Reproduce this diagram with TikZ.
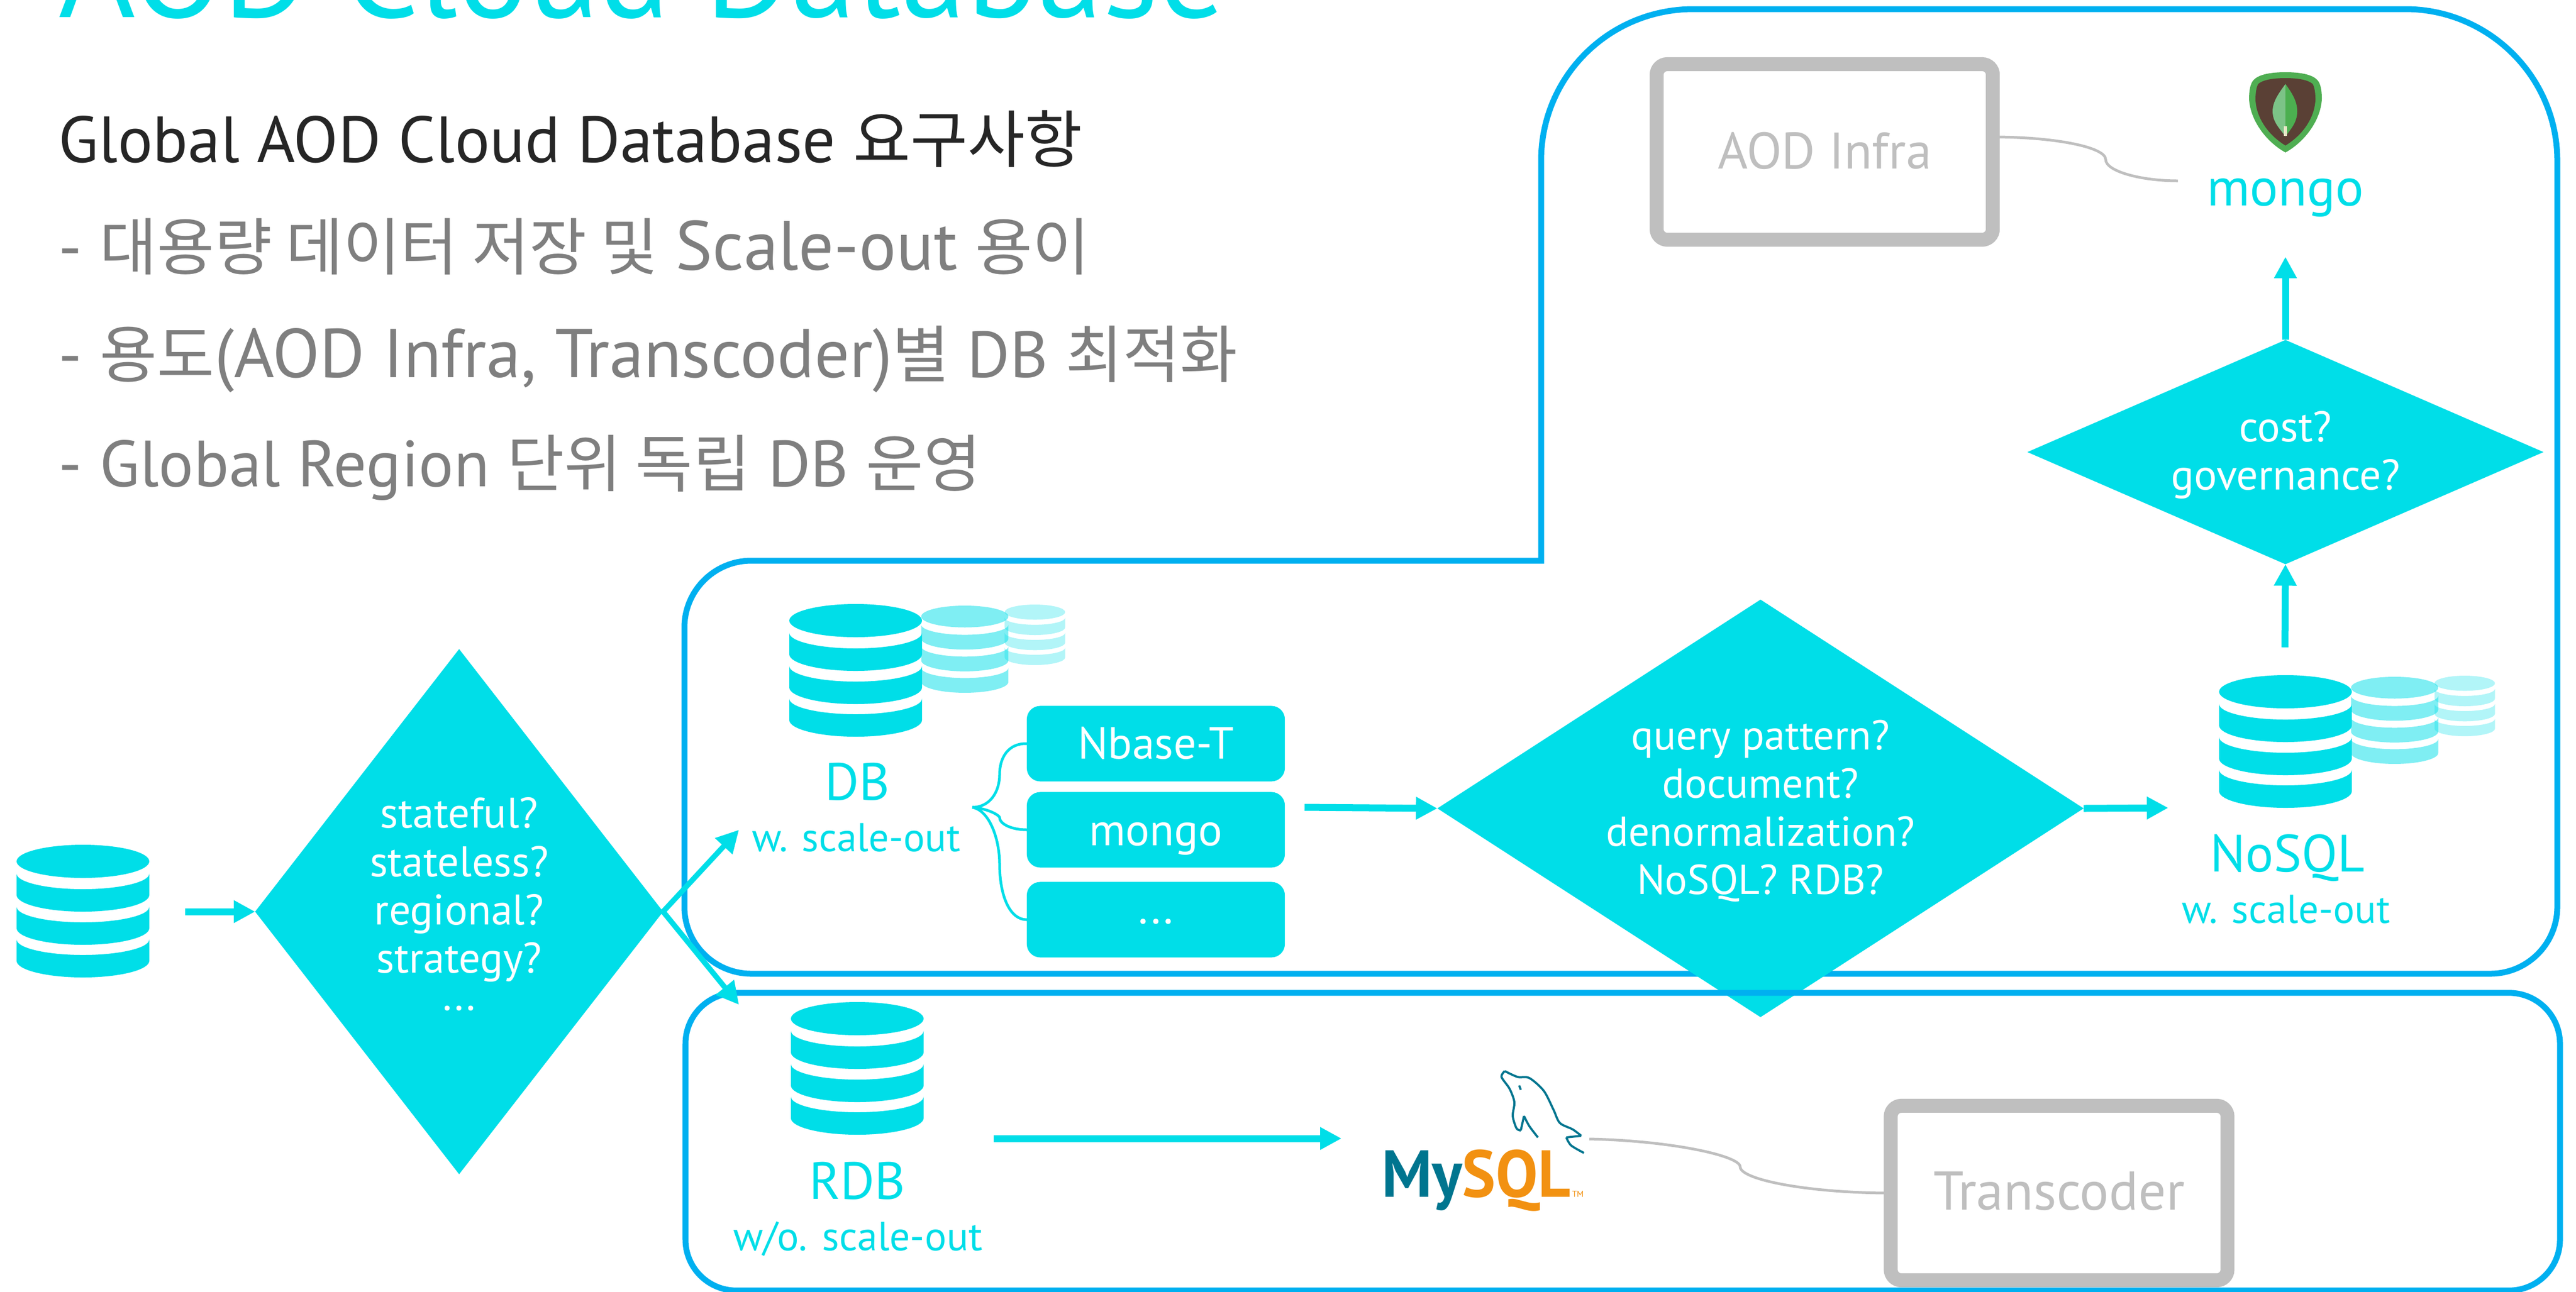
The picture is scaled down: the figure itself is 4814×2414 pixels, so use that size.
\documentclass[tikz,border=0pt]{standalone}
\usepackage{fontspec}
\setmainfont{PT Sans}
\newfontfamily\kr[Scale=0.955]{Noto Sans CJK KR}
\newfontfamily\logofont[FakeStretch=0.95]{PT Sans}
\usetikzlibrary{arrows.meta,shapes.geometric}
\definecolor{cy}{HTML}{00DEE8}
\definecolor{bl}{HTML}{00B0F0}
\definecolor{gb}{HTML}{BFBFBF}
\definecolor{gt}{HTML}{7F7F7F}
\definecolor{dk}{HTML}{262626}
\definecolor{myteal}{HTML}{00758F}
\definecolor{myor}{HTML}{F29111}
\definecolor{mgreen}{HTML}{4FAE52}
\definecolor{mbrown}{HTML}{5A4035}
\definecolor{mleaf}{HTML}{4CAF50}
\definecolor{mleafl}{HTML}{7CC387}
\definecolor{mstem}{HTML}{E8E8C8}
\newcommand\px[2]{\fontsize{\the\dimexpr #1\dimexpr 0.2845pt\relax\relax}{\the\dimexpr #2\dimexpr 0.2845pt\relax\relax}\selectfont}
\tikzset{
  dbicon/.pic={
    \fill (0,31) ellipse [x radius=124,y radius=31];
    \foreach \s in {54,116,177}{
      \fill (-124,\s) .. controls (-124,\s+16) and (-68,\s+29) .. (0,\s+29)
        .. controls (68,\s+29) and (124,\s+16) .. (124,\s) -- (124,\s+40)
        .. controls (124,\s+57) and (68,\s+71) .. (0,\s+71)
        .. controls (-68,\s+71) and (-124,\s+57) .. (-124,\s+40) -- cycle;
    }
  },
  border/.style={draw=bl,line width=0.11cm},
  arr/.style={draw=cy,line width=0.13cm,-{Triangle[length=0.4cm,width=0.4cm]}},
  darr/.style={draw=cy,line width=0.1cm,-{Triangle[length=0.42cm,width=0.42cm]}},
  dia/.style={diamond,fill=cy,inner sep=0,outer sep=0},
  wtxt/.style={text=white,align=center,inner sep=0,outer sep=0,font=\px{80}{90}},
  lab/.style={inner sep=0,outer sep=0,anchor=base},
  cbox/.style={fill=cy,rounded corners=0.25cm,minimum width=4.82cm,minimum height=1.41cm,inner sep=0,outer sep=0,text=white,font=\px{84}{90}},
  gbox/.style={draw=gb,line width=0.26cm,rounded corners=0.2cm,fill=white,text=gb,inner sep=0,outer sep=0},
  gline/.style={draw=gb,line width=0.05cm},
  cline/.style={draw=cy,line width=0.05cm},
  head/.style={inner sep=0,outer sep=0,anchor=base west},
  dolphin/.style={draw=myteal,line width=0.04cm,line join=round},
}
\begin{document}
\begin{tikzpicture}[x=0.01cm,y=-0.01cm]
\clip (0,0) rectangle (4814,2414);
% title and requirements
\node (title) [head,text=cy] at (110,32) {\px{246}{260}AOD Cloud Database};
\node (req0) [head,text=dk] at (110,303) {\px{122}{140}Global AOD Cloud Database {\kr 요구사항}};
\node (req1) [head,text=gt] at (110,504) {\px{122}{140}- {\kr 대용량 데이터 저장 및} {\px{130}{140}Scale-out} {\kr 용이}};
\node (req2) [head,text=gt] at (110,705) {\px{122}{140}- {\kr 용도}{\px{129}{140}(AOD Infra, Transcoder)}{\kr 별} DB {\kr 최적화}};
\node (req3) [head,text=gt] at (110,909) {\px{122}{140}- Global Region {\kr 단위 독립} DB {\kr 운영}};
% upper border
\draw[border] (1404,1048) -- (2880,1048) -- (2880,300)
  .. controls (2880,144) and (3006,17) .. (3165,17) -- (4495,17)
  .. controls (4651,17) and (4779,144) .. (4779,300) -- (4779,1695)
  .. controls (4779,1764) and (4723,1820) .. (4654,1820) -- (1404,1820)
  .. controls (1335,1820) and (1279,1764) .. (1279,1695) -- (1279,1173)
  .. controls (1279,1104) and (1335,1048) .. (1404,1048) -- cycle;
% diamonds
\node (d1) [dia,minimum width=7.62cm,minimum height=9.81cm] at (858,1704) {};
\node (d2) [dia,minimum width=12.07cm,minimum height=7.8cm] at (3290,1511) {};
\node (d3) [dia,minimum width=9.64cm,minimum height=4.19cm] at (4271,845) {};
\node (d1t) [wtxt] at (858,1690) {stateful?\\stateless?\\regional?\\strategy?\\[-5.7pt]...};
\node (d2t) [wtxt,font=\px{78}{90}] at (3290,1516) {query pattern?\\document?\\denormalization?\\NoSQL? RDB?};
\node (d3t) [wtxt] at (4271,850) {cost?\\governance?};
% lower border
\node (lower) [draw=bl,line width=0.11cm,rounded corners=0.95cm,minimum width=35.01cm,minimum height=5.56cm,inner sep=0,outer sep=0] at (3032.5,2134) {};
% db icons
\begin{scope}[fill=cy]
\pic at (155,1579) {dbicon};
\pic at (1599,1129) {dbicon};
\pic[scale=0.657,fill opacity=0.5] at (1803,1132) {dbicon};
\pic[scale=0.456,fill opacity=0.3] at (1934,1130) {dbicon};
\pic at (1602,1873) {dbicon};
\pic at (4271,1262) {dbicon};
\pic[scale=0.657,fill opacity=0.5] at (4475,1265) {dbicon};
\pic[scale=0.456,fill opacity=0.3] at (4606,1263) {dbicon};
\end{scope}
% labels
\node (dbl) [lab,text=cy] at (1602,1495) {\px{98}{110}DB};
\node (dbs) [lab,text=cy] at (1600,1591) {\px{75}{90}w. scale-out};
\node (rdbl) [lab,text=cy] at (1602,2241) {\px{98}{110}RDB};
\node (rdbs) [lab,text=cy] at (1603,2337) {\px{76}{90}w/o. scale-out};
\node (nol) [lab,text=cy] at (4275,1629) {\px{98}{110}NoSQL};
\node (nos) [lab,text=cy] at (4272,1725) {\px{75}{90}w. scale-out};
\node (mgl) [lab,text=cy] at (4271,384) {\px{99}{110}mongo};
% cyan boxes
\node (b1) [cbox,text height=0.56cm,text depth=0pt] at (2160,1390) {Nbase-T};
\node (b2) [cbox,text height=0.58cm,text depth=0pt] at (2160,1551) {mongo};
\node (b3) [cbox,text height=0.14cm,text depth=0pt] at (2160,1719) {...};
% grey boxes
\node (infra) [gbox,minimum width=6.28cm,minimum height=3.28cm,font=\px{96}{110},text height=0.63cm,text depth=0pt] at (3410,284) {AOD Infra};
\node (trans) [gbox,minimum width=6.29cm,minimum height=3.26cm,font=\px{102}{110},text height=0.62cm,text depth=0pt] at (3848,2230) {Transcoder};
% free-end coordinates
\coordinate (src) at (346,1704);
\coordinate (dbin) at (1381,1551);
\coordinate (rdbin) at (1381,1878);
\coordinate (b2out) at (2438,1509);
\coordinate (noin) at (4052,1510);
\coordinate (noout) at (4270,1210);
\coordinate (mgin) at (4271,480);
\coordinate (rdbout) at (1857,2128);
\coordinate (mysqlin) at (2507,2128);
\coordinate (brace) at (1817,1509);
\coordinate (mgw) at (4070,338);
\coordinate (mysqlout) at (2970,2129);
% arrows
\draw[arr] (src) -- (d1.west);
\draw[darr] (d1.east) -- (dbin);
\draw[darr] (d1.east) -- (rdbin);
\draw[arr] (b2out) -- (d2.west);
\draw[arr] (d2.east) -- (noin);
\draw[arr] (noout) -- (d3.south);
\draw[arr] (d3.north) -- (mgin);
\draw[arr] (rdbout) -- (mysqlin);
% brace connectors
\draw[cline] (brace) .. controls (1850,1509) and (1868,1480) .. (1868,1448) .. controls (1868,1415) and (1885,1389) .. (b1.west);
\draw[cline] (brace) .. controls (1850,1512) and (1868,1525) .. (1868,1528) .. controls (1868,1540) and (1890,1551) .. (b2.west);
\draw[cline] (brace) .. controls (1850,1515) and (1868,1570) .. (1868,1615) .. controls (1868,1670) and (1885,1719) .. (b3.west);
% grey connectors
\draw[gline] ([yshift=0.28cm]infra.east) .. controls (3840,256) and (3935,275) .. (3935,298) .. controls (3935,320) and (4000,338) .. (mgw);
\draw[gline] (mysqlout) .. controls (3120,2132) and (3252,2160) .. (3252,2181) .. controls (3252,2205) and (3380,2230) .. (trans.west);
% mongo logo
\fill[mgreen] (4271,135) .. controls (4240,135) and (4220,140) .. (4211,150)
  .. controls (4205,157) and (4203,170) .. (4203,185)
  .. controls (4205,225) and (4235,265) .. (4271,285)
  .. controls (4307,265) and (4337,225) .. (4339,185)
  .. controls (4339,170) and (4337,157) .. (4331,150)
  .. controls (4322,140) and (4302,135) .. (4271,135) -- cycle;
\fill[mbrown] (4271,146) .. controls (4245,146) and (4228,150) .. (4220,157)
  .. controls (4216,165) and (4215,175) .. (4215,187)
  .. controls (4217,222) and (4240,253) .. (4271,272)
  .. controls (4302,253) and (4325,222) .. (4327,187)
  .. controls (4327,175) and (4326,165) .. (4322,157)
  .. controls (4314,150) and (4297,146) .. (4271,146) -- cycle;
\fill[mleafl] (4271,157) .. controls (4258,175) and (4247,190) .. (4247,208)
  .. controls (4247,228) and (4260,240) .. (4271,255) -- cycle;
\fill[mleaf] (4271,157) .. controls (4284,175) and (4293,190) .. (4293,208)
  .. controls (4293,228) and (4282,240) .. (4271,255) -- cycle;
\fill[mstem] (4268,236) rectangle (4274,254);
% mysql logo
\node (mysql) [head] at (2582,2237) {\logofont\bfseries\px{124}{130}\textcolor{myteal}{My}\textcolor{myor}{SQL}};
\node (tm) [head,text=myor] at (2938,2237) {\px{16}{18}TM};
\draw[dolphin] plot[smooth] coordinates {(2812,2002) (2836,2013) (2858,2015) (2885,2039) (2903,2074) (2915,2099) (2939,2111) (2955,2123)};
\draw[dolphin] (2955,2123) -- (2927,2126);
\draw[dolphin] plot[smooth] coordinates {(2927,2126) (2936,2141) (2960,2155)};
\draw[dolphin] plot[smooth] coordinates {(2812,2002) (2806,2013) (2821,2035) (2830,2060) (2827,2086) (2834,2109) (2842,2113)};
\draw[dolphin] (2842,2113) -- (2848,2086);
\draw[dolphin] plot[smooth] coordinates {(2848,2086) (2858,2105) (2874,2126)};
\draw[dolphin] (2839,2029) -- (2842,2037);
\end{tikzpicture}
\end{document}
